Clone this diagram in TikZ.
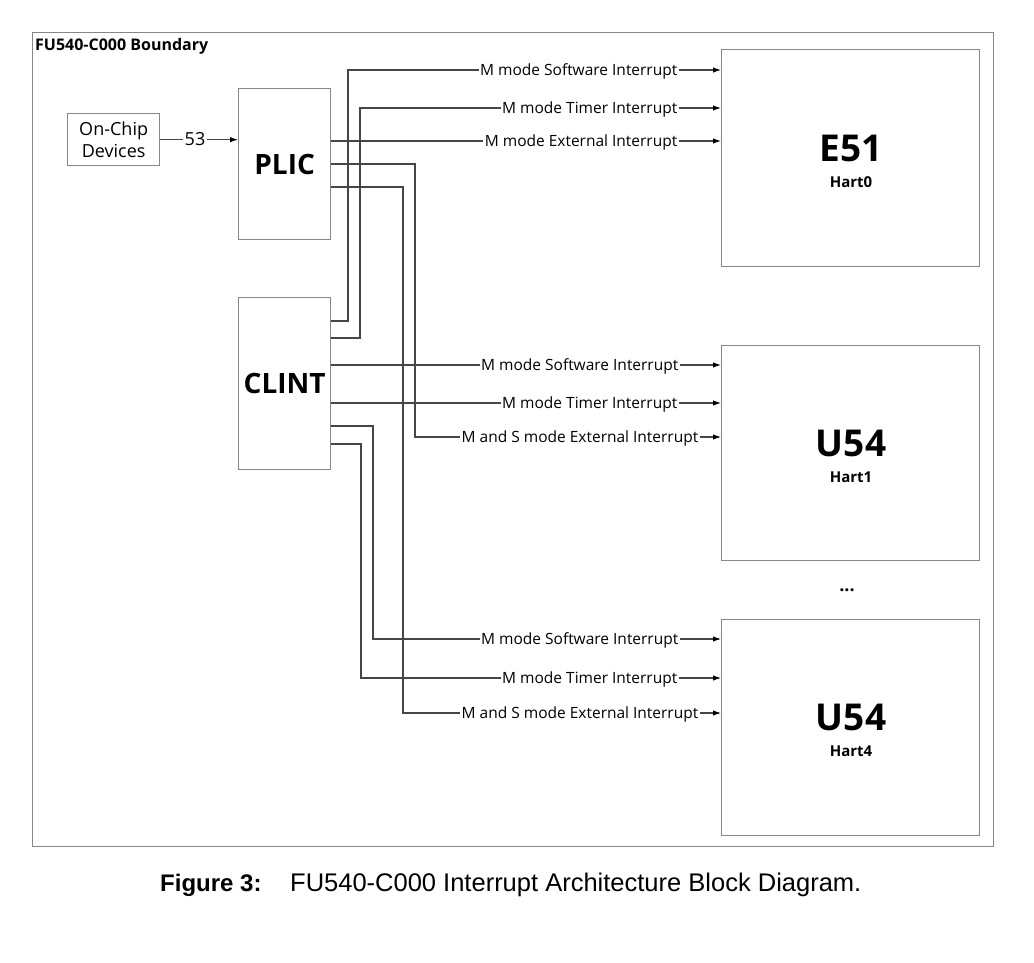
\documentclass[tikz,border=0pt]{standalone}
\usepackage{fontspec}
\setmainfont{Open Sans}
\newfontfamily\capfont{Liberation Sans}
\usetikzlibrary{arrows.meta}
\definecolor{boxgray}{RGB}{135,135,135}
\definecolor{wiregray}{RGB}{70,70,70}
\begin{document}
\begin{tikzpicture}[x=1pt,y=-1pt,
  box/.style={draw=boxgray,line width=1.3pt,fill=white,inner sep=0pt,anchor=north west},
  wire/.style={draw=wiregray,line width=1.1pt},
  arr/.style={wire,-{Latex[length=8pt,width=5.5pt,color=black]}},
  lab/.style={fill=white,inner sep=1.5pt,text depth=0pt,font=\fontsize{15.5}{18}\selectfont,anchor=east},
  big/.style={font=\bfseries\fontsize{37}{40}\selectfont,inner sep=0pt},
  hart/.style={font=\bfseries\fontsize{15}{18}\selectfont,inner sep=0pt},
  mid/.style={font=\bfseries\fontsize{28}{32}\selectfont}
]
\useasboundingbox[fill=white] (0,0) rectangle (1034,962);
% boundary
\node[box,minimum width=961pt,minimum height=814pt] (bound) at (32,32) {};
\node[anchor=base west,inner sep=0pt,font=\bfseries\fontsize{16}{18}\selectfont] (title) at (35,50) {FU540-C000 Boundary};
% blocks
\node[box,minimum width=92pt,minimum height=52pt] (dev) at (67,113) {};
\node[align=center,font=\fontsize{18}{22}\selectfont,inner sep=0pt] (devt) at (dev.center) {On-Chip\\Devices};
\node[box,minimum width=92pt,minimum height=151pt,mid] (PLIC) at (238,88) {};
\node[mid,inner sep=0pt] (plict) at (PLIC.center) {PLIC};
\node[box,minimum width=92pt,minimum height=172pt] (CLINT) at (238,297) {};
\node[mid,inner sep=0pt] (clintt) at (CLINT.center) {CLINT};
\node[box,minimum width=258pt,minimum height=217pt] (E51) at (721,49) {};
\node[box,minimum width=258pt,minimum height=215pt] (H1) at (721,345) {};
\node[box,minimum width=258pt,minimum height=216pt] (H4) at (721,619) {};
\node[big] (e51t) at (851,148) {E51};
\node[hart] (h0t) at (851,182) {Hart0};
\node[big] (u54a) at (851,443) {U54};
\node[hart] (h1t) at (851,477) {Hart1};
\node[big] (u54b) at (851,717) {U54};
\node[hart] (h4t) at (851,751) {Hart4};
\node[font=\bfseries\fontsize{18}{20}\selectfont,inner sep=0pt] (dots) at (847,590) {...};
% device arrow
\draw[arr] (dev.east) -- (PLIC.west |- dev.east);
\node[fill=white,inner sep=1.5pt,text depth=0pt,font=\fontsize{18}{22}\selectfont] (n53) at (195,139) {53};
% wires to E51
\draw[arr] (CLINT.east |- 0,321) -| (348,70) -- (E51.west |- 0,70);
\draw[arr] (CLINT.east |- 0,338) -| (360,108) -- (E51.west |- 0,108);
\draw[arr] (PLIC.east |- 0,141) -- (E51.west |- 0,141);
% wires to Hart1
\draw[arr] (CLINT.east |- 0,365) -- (H1.west |- 0,365);
\draw[arr] (CLINT.east |- 0,403) -- (H1.west |- 0,403);
\draw[arr] (PLIC.east |- 0,164) -| (415,437) -- (H1.west |- 0,437);
% wires to Hart4
\draw[arr] (CLINT.east |- 0,426) -| (373,639) -- (H4.west |- 0,639);
\draw[arr] (CLINT.east |- 0,444) -| (361,678) -- (H4.west |- 0,678);
\draw[arr] (PLIC.east |- 0,187) -| (403,713) -- (H4.west |- 0,713);
% labels
\node[lab] (l1) at (679,70) {M mode Software Interrupt};
\node[lab] (l2) at (679,108) {M mode Timer Interrupt};
\node[lab] (l3) at (679,141) {M mode External Interrupt};
\node[lab] (l4) at (680,365) {M mode Software Interrupt};
\node[lab] (l5) at (679,403) {M mode Timer Interrupt};
\node[lab] (l6) at (700,437) {M and S mode External Interrupt};
\node[lab] (l7) at (680,639) {M mode Software Interrupt};
\node[lab] (l8) at (679,678) {M mode Timer Interrupt};
\node[lab] (l9) at (700,713) {M and S mode External Interrupt};
% caption
\node[anchor=base west,inner sep=0pt,font=\capfont\bfseries\fontsize{24}{28}\selectfont] (capa) at (160,891) {Figure 3:};
\node[anchor=base west,inner sep=0pt,font=\capfont\fontsize{25.5}{28}\selectfont] (capb) at (290,891) {FU540-C000 Interrupt Architecture Block Diagram.};
\end{tikzpicture}
\end{document}
